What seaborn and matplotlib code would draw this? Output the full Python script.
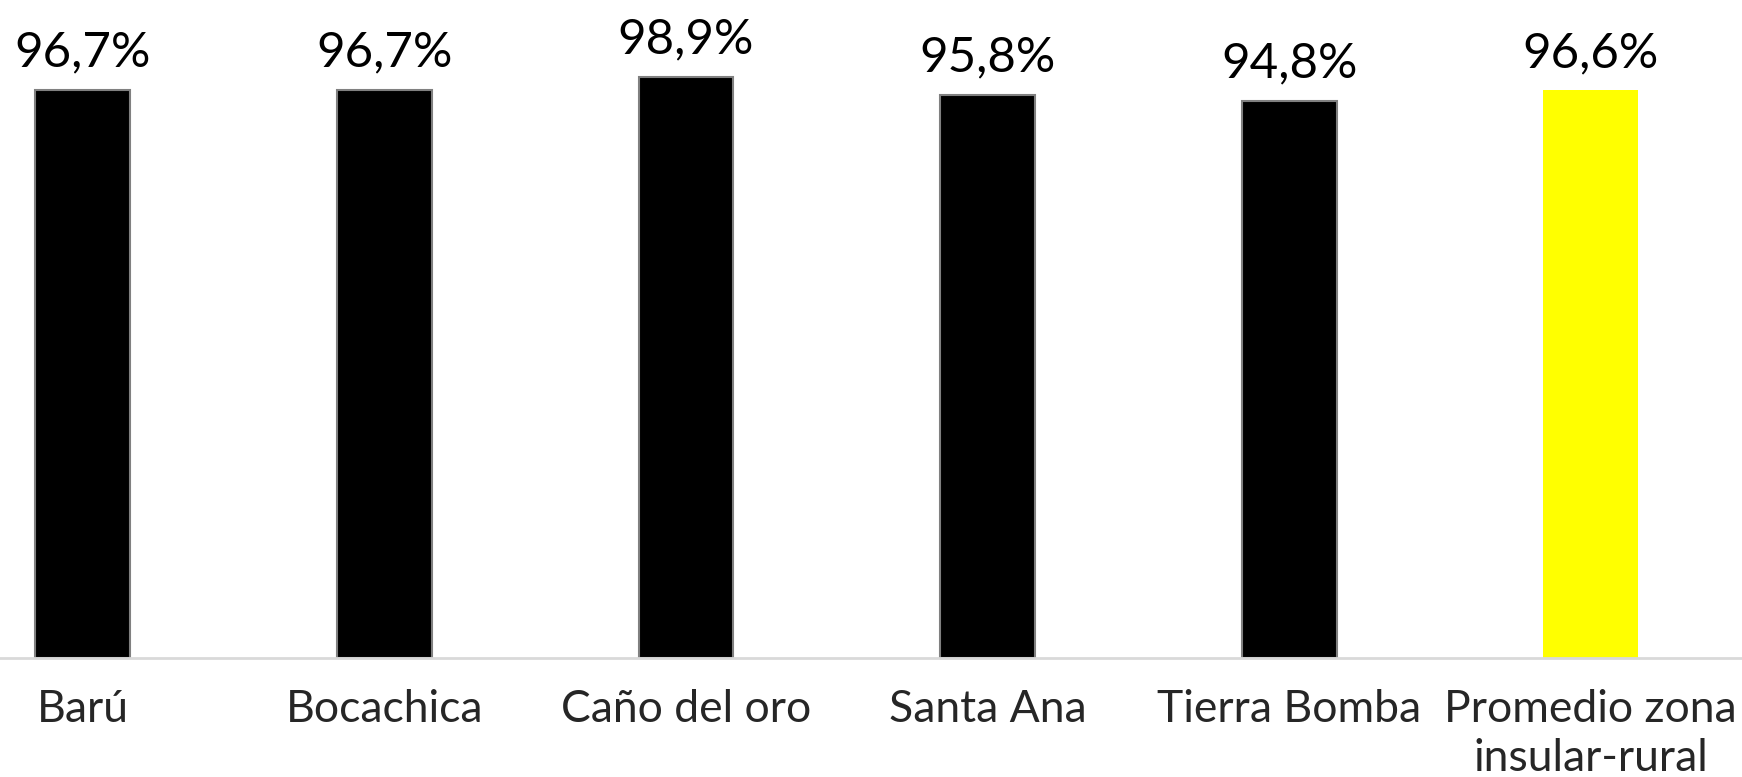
import matplotlib
matplotlib.use("Agg")
import matplotlib.pyplot as plt
import seaborn as sns
import pandas as pd

# datos
zonas = ["Barú", "Bocachica", "Caño del oro", "Santa Ana", "Tierra Bomba",
         "Promedio zona\ninsular-rural"]
valores = [96.7, 96.7, 98.9, 95.8, 94.8, 96.6]
colores = ["#000000", "#000000", "#000000", "#000000", "#000000", "#FFFF00"]

df = pd.DataFrame({"zona": zonas, "valor": valores})

sns.set_style("white")
plt.rcParams["font.family"] = ["Lato", "DejaVu Sans"]

fig = plt.figure(figsize=(17.42, 7.77), dpi=100)
ax = fig.add_axes([0, 0.1532, 1, 0.8468])

sns.barplot(data=df, x="zona", y="valor", hue="zona", palette=colores,
            width=0.315, legend=False, ax=ax, saturation=1)

# borde gris en las barras negras
for p, c in zip(ax.patches, colores):
    if c == "#000000":
        p.set_edgecolor("#808080")
        p.set_linewidth(1.5)
    else:
        p.set_linewidth(0)

for cont in ax.containers:
    ax.bar_label(cont, labels=[f"{v:.1f}%".replace(".", ",") for v in cont.datavalues],
                 padding=11, fontsize=35.5, color="black")

ax.set_xlim(-0.275, 5.502)
ax.set_ylim(0, 112)
ax.set_xlabel("")
ax.set_ylabel("")
ax.set_yticks([])
ax.tick_params(axis="x", length=0, pad=22, labelsize=32)
for lbl in ax.get_xticklabels():
    lbl.set_linespacing(1.25)

for s in ["top", "right", "left"]:
    ax.spines[s].set_visible(False)
ax.spines["bottom"].set_color("#d9d9d9")
ax.spines["bottom"].set_linewidth(2)

plt.savefig("out.png", dpi=100)
